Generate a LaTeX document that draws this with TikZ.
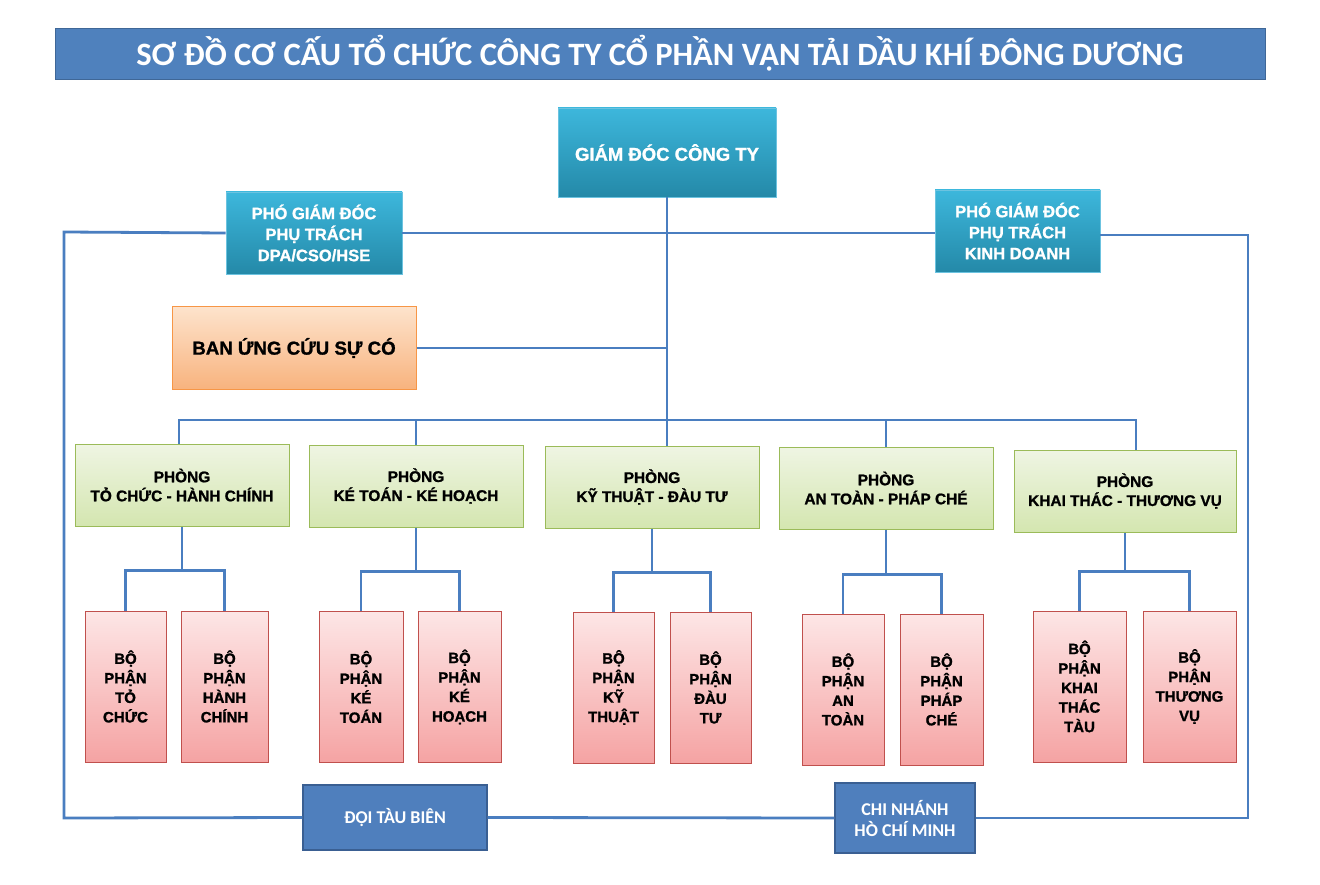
\documentclass[tikz,border=0pt]{standalone}
\usepackage{fontspec}
\setmainfont{Liberation Sans}[BoldFeatures={FakeBold=1.2}]
\newfontfamily\titlefont{Carlito}
\definecolor{lineblue}{HTML}{4A7EC0}
\definecolor{titleblue}{HTML}{4F81BD}
\definecolor{tealtop}{HTML}{3DB7DC}
\definecolor{tealbot}{HTML}{2489A8}
\definecolor{tealdraw}{HTML}{6CC3E0}
\definecolor{orgtop}{HTML}{FDE3CC}
\definecolor{orgbot}{HTML}{F8B37E}
\definecolor{orgdraw}{HTML}{F79646}
\definecolor{grntop}{HTML}{EFF5E3}
\definecolor{grnbot}{HTML}{D4E6B0}
\definecolor{grndraw}{HTML}{9BBB59}
\definecolor{pnktop}{HTML}{FDE6E6}
\definecolor{pnkbot}{HTML}{F5A3A3}
\definecolor{pnkdraw}{HTML}{C0504D}
\definecolor{navyfill}{HTML}{4F7FBD}
\definecolor{navydraw}{HTML}{3A5F92}
\tikzset{
  conn/.style={draw=lineblue, line width=2.8pt},
  titlebox/.style={rectangle, fill=titleblue, draw=titleblue!80!black, line width=0.8pt, inner sep=0pt,
     text=white, font=\titlefont\bfseries\fontsize{32.6}{36}\selectfont},
  tealbox/.style={rectangle, top color=tealtop, bottom color=tealbot, draw=tealdraw, line width=0.8pt,
     text=white, align=center, inner sep=0pt, font=\bfseries\fontsize{16.5}{21}\selectfont},
  orgbox/.style={rectangle, top color=orgtop, bottom color=orgbot, draw=orgdraw, line width=1pt,
     text=black, align=center, inner sep=0pt, font=\bfseries\fontsize{18.7}{22}\selectfont},
  grnbox/.style={rectangle, top color=grntop, bottom color=grnbot, draw=grndraw, line width=1pt,
     minimum width=214pt, minimum height=82pt,
     text=black, align=center, inner sep=0pt, font=\bfseries\fontsize{15.4}{19}\selectfont},
  pnkbox/.style={rectangle, top color=pnktop, bottom color=pnkbot, draw=pnkdraw, line width=1pt,
     minimum height=151pt,
     text=black, align=center, inner sep=0pt, font=\bfseries\fontsize{15}{19.5}\selectfont},
  navybox/.style={rectangle, fill=navyfill, draw=navydraw, line width=1.2pt,
     text=white, align=center, inner sep=0pt, font=\titlefont\bfseries\fontsize{18}{21}\selectfont},
}
\begin{document}
\begin{tikzpicture}[x=1pt,y=-1pt]
\useasboundingbox[fill=white] (0,0) rectangle (1320,885);

% title
\node[titlebox, minimum width=1210pt, minimum height=51pt] (title) at (660,53.5)
  {SƠ ĐỒ CƠ CẤU TỔ CHỨC CÔNG TY CỔ PHẦN VẬN TẢI DẦU KHÍ ĐÔNG DƯƠNG};

% top level
\node[tealbox, font=\bfseries\fontsize{18.5}{22}\selectfont, minimum width=218pt, minimum height=89pt] (gd) at (667,152.5) {GIÁM ĐÓC CÔNG TY};
\node[tealbox, minimum width=176pt, minimum height=82pt] (pl) at (314,233) {PHÓ GIÁM ĐÓC\\PHỤ TRÁCH\\DPA/CSO/HSE};
\node[tealbox, minimum width=165pt, minimum height=82pt] (pr) at (1017.5,231) {PHÓ GIÁM ĐÓC\\PHỤ TRÁCH\\KINH DOANH};
\node[orgbox, minimum width=244pt, minimum height=82pt] (ban) at (294,348) {BAN ỨNG CỨU SỰ CÓ};

% departments
\node[grnbox] (p1) at (182,485) {PHÒNG\\TỎ CHỨC - HÀNH CHÍNH};
\node[grnbox] (p2) at (416,486) {PHÒNG\\KÉ TOÁN - KÉ HOẠCH};
\node[grnbox] (p3) at (652,487) {PHÒNG\\KỸ THUẬT - ĐÀU TƯ};
\node[grnbox] (p4) at (886,488) {PHÒNG\\AN TOÀN - PHÁP CHÉ};
\node[grnbox, minimum width=222pt] (p5) at (1125,491) {PHÒNG\\KHAI THÁC - THƯƠNG VỤ};

% sections
\node[pnkbox, minimum width=81pt] (b11) at (125.5,686.5) {BỘ\\PHẬN\\TỎ\\CHỨC};
\node[pnkbox, minimum width=87pt] (b12) at (224.5,686.5) {BỘ\\PHẬN\\HÀNH\\CHÍNH};
\node[pnkbox, minimum width=84pt] (b21) at (361,687) {BỘ\\PHẬN\\KÉ\\TOÁN};
\node[pnkbox, minimum width=83pt] (b22) at (459.5,687) {BỘ\\PHẬN\\KÉ\\HOẠCH};
\node[pnkbox, minimum width=81pt] (b31) at (613.5,687.5) {BỘ\\PHẬN\\KỸ\\THUẬT};
\node[pnkbox, minimum width=81pt] (b32) at (710.5,687.5) {BỘ\\PHẬN\\ĐÀU\\TƯ};
\node[pnkbox, minimum width=82pt] (b41) at (843,689.5) {BỘ\\PHẬN\\AN\\TOÀN};
\node[pnkbox, minimum width=83pt] (b42) at (941.5,689.5) {BỘ\\PHẬN\\PHÁP\\CHÉ};
\node[pnkbox, minimum width=93pt] (b51) at (1079.5,686.5) {BỘ\\PHẬN\\KHAI\\THÁC\\TÀU};
\node[pnkbox, minimum width=93pt] (b52) at (1189.5,686.5) {BỘ\\PHẬN\\THƯƠNG\\VỤ};

% bottom units
\node[navybox, minimum width=184pt, minimum height=65pt] (doi) at (395,817.5) {ĐỘI TÀU BIÊN};
\node[navybox, minimum width=140pt, minimum height=70pt] (cn) at (905,818) {CHI NHÁNH\\HÒ CHÍ MINH};

% coordinates
\coordinate (bus) at (666,420);
\coordinate (busL) at (179,420);
\coordinate (busR) at (1136,420);
\coordinate (tl) at (64,232);
\coordinate (bl) at (64,818);
\coordinate (tr) at (1248,235);
\coordinate (br) at (1248,818);

% connectors
\draw[conn] (gd.south) -- (gd.south |- p3.north);
\draw[conn] (pl.east) -- (pl.east -| pr.west);
\draw[conn] (ban.east) -- (ban.east -| gd.south);
\draw[conn] (pl.west) -- (tl) -- (bl) -- (doi.west);
\draw[conn] (doi.east) -- (cn.west);
\draw[conn] (cn.east) -- (br) -- (tr) -- (tr -| pr.east);
\draw[conn] (busL |- p1.north) -- (busL) -- (busR) -- (busR |- p5.north);
\draw[conn] (p2.north) -- (p2.north |- bus);
\draw[conn] (p4.north) -- (p4.north |- bus);

\draw[conn] (p1.south) -- ++(0,44) coordinate (j1);
\draw[conn] (b11.north) |- (j1) -| (b12.north);
\draw[conn] (p2.south) -- ++(0,44) coordinate (j2);
\draw[conn] (b21.north) |- (j2) -| (b22.north);
\draw[conn] (p3.south) -- ++(0,44) coordinate (j3);
\draw[conn] (b31.north) |- (j3) -| (b32.north);
\draw[conn] (p4.south) -- ++(0,45) coordinate (j4);
\draw[conn] (b41.north) |- (j4) -| (b42.north);
\draw[conn] (p5.south) -- ++(0,39) coordinate (j5);
\draw[conn] (b51.north) |- (j5) -| (b52.north);
\end{tikzpicture}
\end{document}
